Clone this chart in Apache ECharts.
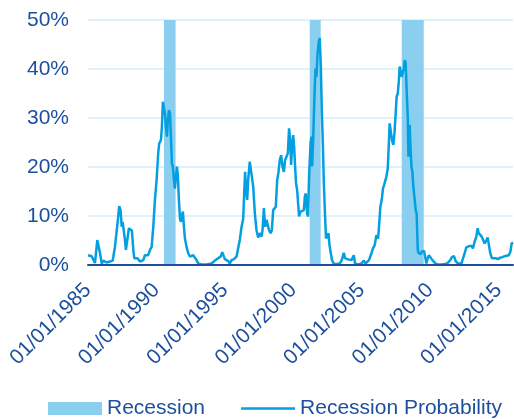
<!DOCTYPE html>
<html>
<head>
<meta charset="utf-8">
<script src="https://cdn.jsdelivr.net/npm/echarts@6/dist/echarts.min.js"></script>
<style>
  html, body { margin: 0; padding: 0; background: #ffffff; }
  #chart { width: 514px; height: 419px; }
</style>
</head>
<body>
<div id="chart"></div>
<script>
// Recession probability (%) by date, dates as fractional years
const probDates = [
  1985.00, 1985.27, 1985.39, 1985.51, 1985.68, 1985.78, 1985.88, 1986.00, 1986.12, 1986.24,
  1986.36, 1986.48, 1986.61, 1986.80, 1986.85, 1986.97, 1987.09, 1987.21, 1987.28, 1987.38,
  1987.46, 1987.53, 1987.63, 1987.70, 1987.77, 1987.87, 1987.99, 1988.12, 1988.21, 1988.31,
  1988.38, 1988.50, 1988.60, 1988.70, 1988.80, 1988.92, 1989.04, 1989.16, 1989.28, 1989.40,
  1989.53, 1989.65, 1989.77, 1989.89, 1990.01, 1990.13, 1990.20, 1990.33, 1990.40, 1990.47,
  1990.55, 1990.62, 1990.69, 1990.77, 1990.84, 1990.91, 1990.99, 1991.06, 1991.13, 1991.20,
  1991.28, 1991.35, 1991.42, 1991.50, 1991.57, 1991.64, 1991.72, 1991.79, 1991.86, 1991.93,
  1992.01, 1992.08, 1992.20, 1992.32, 1992.45, 1992.57, 1992.69, 1992.81, 1992.93, 1993.05,
  1993.30, 1993.66, 1994.03, 1994.27, 1994.51, 1994.69, 1994.81, 1994.93,
  1995.00, 1995.12, 1995.24, 1995.36, 1995.49, 1995.66, 1995.85, 1995.97, 1996.09, 1996.22,
  1996.34, 1996.41, 1996.48, 1996.55, 1996.63, 1996.70, 1996.82, 1996.95, 1997.07, 1997.19,
  1997.31, 1997.43, 1997.55, 1997.68, 1997.75, 1997.85, 1997.94, 1998.04, 1998.14, 1998.23,
  1998.34, 1998.43, 1998.53, 1998.63, 1998.72, 1998.82, 1998.92, 1999.01, 1999.11, 1999.21,
  1999.31, 1999.40, 1999.50, 1999.60, 1999.69, 1999.77, 1999.84, 1999.91, 1999.99, 2000.06,
  2000.13, 2000.20, 2000.28, 2000.35, 2000.42, 2000.53, 2000.67, 2000.77, 2000.84, 2000.91,
  2001.01, 2001.08, 2001.15, 2001.26, 2001.33, 2001.37, 2001.45, 2001.55, 2001.62, 2001.69,
  2001.77, 2001.86, 2001.93, 2002.01, 2002.08, 2002.15, 2002.23, 2002.32, 2002.39, 2002.47,
  2002.57, 2002.64, 2002.74, 2002.83, 2002.96, 2003.15, 2003.39, 2003.54, 2003.69, 2003.78,
  2003.93, 2004.07, 2004.25, 2004.42, 2004.51, 2004.73, 2004.98,
  2005.15, 2005.27, 2005.39, 2005.53, 2005.71, 2005.82, 2005.95, 2006.07, 2006.19, 2006.26,
  2006.36, 2006.46, 2006.55, 2006.63, 2006.70, 2006.80, 2006.90, 2006.97, 2007.04, 2007.12,
  2007.21, 2007.31, 2007.39, 2007.48, 2007.55, 2007.63, 2007.70, 2007.77, 2007.85, 2007.92,
  2007.99, 2008.07, 2008.14, 2008.21, 2008.28, 2008.36, 2008.41, 2008.45, 2008.50, 2008.55,
  2008.63, 2008.70, 2008.77, 2008.87, 2008.94, 2009.01, 2009.09, 2009.16, 2009.23, 2009.31,
  2009.38, 2009.47, 2009.55, 2009.65, 2009.72, 2009.82, 2009.91, 2010.04, 2010.16, 2010.26,
  2010.40, 2010.57, 2010.82, 2011.06, 2011.23, 2011.37, 2011.47, 2011.59, 2011.74, 2011.86,
  2012.03, 2012.28, 2012.39, 2012.52, 2012.64, 2012.76, 2012.88, 2013.03, 2013.12, 2013.25,
  2013.37, 2013.47, 2013.54, 2013.61, 2013.74, 2013.85, 2013.98, 2014.10, 2014.20, 2014.29,
  2014.39, 2014.51, 2014.64, 2014.78, 2014.95, 2015.12, 2015.27, 2015.44, 2015.57, 2015.74,
  2015.86, 2015.95, 2016.05
];
const probValues = [
  2.0, 1.8, 1.4, 0.4, 5.1, 5.2, 2.4, 0.3, 0.9, 0.7,
  0.5, 0.8, 0.7, 0.9, 1.7, 3.7, 4.1, 9.9, 12.0, 11.2,
  7.8, 8.8, 8.6, 5.1, 3.1, 5.1, 7.5, 7.1, 7.0, 3.1,
  1.4, 1.7, 1.4, 1.7, 0.7, 0.3, 1.0, 2.0, 1.7, 2.0,
  3.1, 3.7, 7.8, 13.3, 17.3, 22.8, 24.8, 25.5, 28.2, 33.3,
  33.0, 31.0, 28.2, 26.2, 29.6, 31.6, 31.0, 26.2, 20.7, 20.1,
  17.3, 15.6, 18.0, 20.1, 18.0, 13.3, 9.5, 8.8, 9.9, 10.9,
  7.8, 5.4, 3.7, 2.4, 1.7, 1.5, 2.0, 2.2, 1.0, 0.3,
  0.1, 0.1, 0.3, 0.9, 1.4, 1.7, 2.6, 1.7,
  1.2, 1.4, 0.8, 0.3, 1.0, 1.2, 1.7, 3.4, 5.1, 7.8,
  9.5, 14.6, 19.0, 15.3, 13.3, 17.3, 21.1, 20.7, 16.0, 10.5,
  7.1, 5.6, 6.5, 5.8, 7.1, 11.6, 7.8, 9.2, 8.8, 7.1,
  6.5, 7.1, 11.2, 11.2, 11.9, 17.3, 19.0, 21.4, 22.4, 20.1,
  19.0, 21.4, 22.1, 22.8, 27.9, 25.5, 20.4, 24.1, 26.5, 24.1,
  20.1, 16.7, 15.3, 12.6, 9.9, 10.9, 10.9, 11.2, 13.9, 14.6,
  10.5, 9.9, 18.0, 24.8, 26.2, 20.1, 25.5, 35.0, 40.1, 38.4,
  43.2, 45.6, 46.3, 40.5, 31.6, 25.5, 16.7, 9.9, 5.4, 5.2,
  6.5, 4.1, 2.4, 1.0, 0.2, 0.2, 0.3, 1.0, 2.5, 1.4,
  1.2, 1.4, 1.0, 2.0, 0.3, 0.1, 0.3,
  0.9, 0.3, 0.1, 1.0, 2.4, 3.4, 4.1, 6.1, 5.4, 7.8,
  11.9, 13.3, 15.6, 16.3, 17.0, 18.0, 19.7, 24.1, 28.9, 28.6,
  25.5, 24.5, 26.9, 31.0, 34.4, 35.0, 37.1, 40.5, 40.8, 38.4,
  38.1, 40.1, 41.8, 41.2, 35.7, 30.3, 22.1, 25.5, 28.6, 24.8,
  20.1, 19.0, 16.0, 13.3, 11.2, 10.5, 3.1, 2.4, 2.7, 2.2,
  2.7, 2.4, 2.9, 1.4, 0.3, 1.4, 2.0, 1.7, 1.0, 0.9,
  0.3, 0.1, 0.1, 0.2, 0.3, 0.5, 1.0, 1.6, 1.8, 0.8,
  0.3, 0.3, 0.5, 2.4, 3.6, 3.6, 3.9, 3.9, 3.4, 4.8,
  5.8, 7.5, 6.5, 6.8, 5.9, 6.1, 4.4, 5.0, 5.6, 4.1,
  2.4, 1.4, 1.0, 1.4, 1.2, 1.5, 1.6, 1.8, 2.0, 2.0,
  2.7, 4.4, 4.6
];

// Recession periods (start, end) as fractional years
const recessionStart = [1990.55, 2001.20, 2007.92];
const recessionEnd   = [1991.40, 2002.00, 2009.53];

// Axis ticks
const xTickYears = [1985, 1990, 1995, 2000, 2005, 2010, 2015];
const yTicks = [0, 10, 20, 30, 40, 50];

const textBlue = '#1d4f9c';
const lineBlue = '#049fe0';
const bandBlue = '#8bcff0';
const gridBlue = '#d4edf9';
const fontFamily = '"Liberation Sans", Arial, sans-serif';

const probData = probDates.map((d, i) => [d, probValues[i]]);
const recessionData = recessionStart.map((s, i) => [s, recessionEnd[i]]);
const yTop = yTicks[yTicks.length - 1];

const chart = echarts.init(document.getElementById('chart'), null, { renderer: 'canvas' });

chart.setOption({
  animation: false,
  backgroundColor: '#ffffff',
  textStyle: { fontFamily: fontFamily },
  grid: { left: 88, right: 1, top: 20, bottom: 154, containLabel: false },
  legend: {
    left: 48,
    top: 398,
    padding: 0,
    itemWidth: 54,
    itemHeight: 13,
    itemGap: 36,
    symbolKeepAspect: true,
    textStyle: { color: textBlue, fontSize: 21, fontFamily: fontFamily },
    data: [
      { name: 'Recession', icon: 'rect' },
      // plain stroke key for the line, no marker
      { name: 'Recession Probability', icon: 'path://M0 0L54 0L54 2.5L0 2.5Z' }
    ]
  },
  xAxis: {
    type: 'value',
    min: xTickYears[0],
    max: 2016.05,
    interval: 5,
    z: 5,
    axisLine: { show: true, onZero: true, lineStyle: { color: '#1d4f9c', width: 2 } },
    axisTick: { show: false },
    splitLine: { show: false },
    axisLabel: {
      rotate: 45,
      margin: 22,
      fontSize: 21,
      color: textBlue,
      fontFamily: fontFamily,
      showMaxLabel: false,
      formatter: function (v) {
        return xTickYears.indexOf(v) >= 0 ? '01/01/' + v : '';
      }
    }
  },
  yAxis: {
    type: 'value',
    min: yTicks[0],
    max: yTop,
    interval: 10,
    axisLine: { show: false },
    axisTick: { show: false },
    splitLine: { show: true, lineStyle: { color: gridBlue, width: 1.5 } },
    axisLabel: {
      margin: 19,
      fontSize: 21,
      color: textBlue,
      fontFamily: fontFamily,
      formatter: '{value}%'
    }
  },
  series: [
    {
      name: 'Recession',
      type: 'custom',
      color: bandBlue,
      itemStyle: { color: bandBlue },
      encode: { x: [0, 1] },
      data: recessionData,
      z: 1,
      renderItem: function (params, api) {
        const p0 = api.coord([api.value(0), yTop]);
        const p1 = api.coord([api.value(1), 0]);
        return {
          type: 'rect',
          shape: { x: p0[0], y: p0[1], width: p1[0] - p0[0], height: p1[1] - p0[1] },
          style: { fill: bandBlue }
        };
      }
    },
    {
      name: 'Recession Probability',
      type: 'line',
      color: lineBlue,
      symbol: 'none',
      z: 3,
      lineStyle: { color: lineBlue, width: 2.5 },
      data: probData
    }
  ]
});
</script>
</body>
</html>
